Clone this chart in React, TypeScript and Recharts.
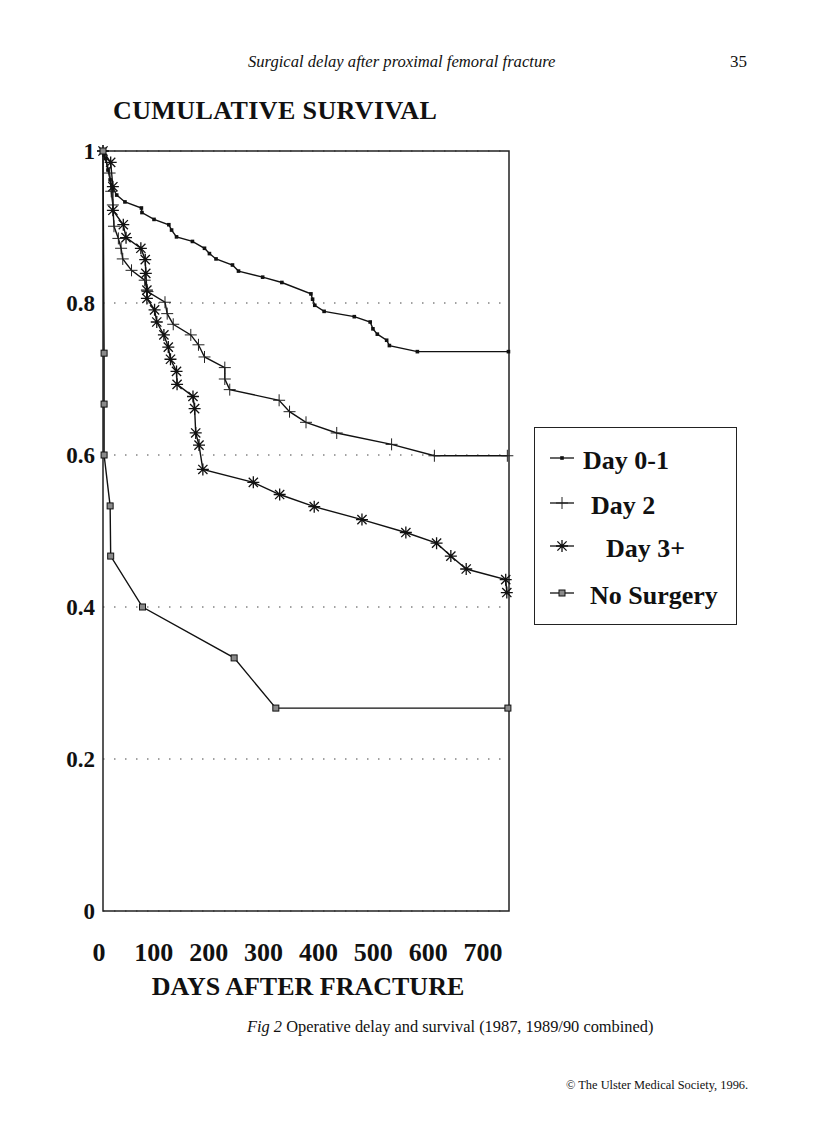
import React from 'react';
import { LineChart, Line, XAxis, YAxis, CartesianGrid, ReferenceArea } from 'recharts';

const SERIF = "'Liberation Serif', 'Times New Roman', serif";

const DAY_TICKS = [0, 100, 200, 300, 400, 500, 600, 700];
const SURV_TICKS = [0, 0.2, 0.4, 0.6, 0.8, 1];

// [days after fracture, cumulative survival]
const day01: [number, number][] = [
  [0, 1], [5, 0.99], [9, 0.975], [13, 0.962], [18, 0.951], [25, 0.942], [40, 0.933],
  [70, 0.925], [71, 0.919], [93, 0.91], [120, 0.903], [125, 0.896], [134, 0.887],
  [163, 0.881], [185, 0.872], [194, 0.865], [206, 0.858], [236, 0.85], [247, 0.842],
  [291, 0.834], [326, 0.827], [379, 0.812], [382, 0.805], [386, 0.797], [403, 0.789],
  [458, 0.782], [487, 0.775], [492, 0.766], [500, 0.759], [517, 0.751], [522, 0.744],
  [573, 0.736], [739, 0.736],
];

const day2: [number, number][] = [
  [0, 1], [12, 0.971], [15, 0.947], [18, 0.929], [20, 0.901], [28, 0.885], [33, 0.872],
  [36, 0.858], [52, 0.843], [76, 0.83], [81, 0.815], [113, 0.801], [117, 0.786],
  [128, 0.772], [160, 0.758], [174, 0.745], [185, 0.729], [222, 0.715], [222, 0.7],
  [231, 0.686], [321, 0.672], [340, 0.657], [370, 0.643], [426, 0.629], [526, 0.614],
  [604, 0.599], [737, 0.599],
];

const day3plus: [number, number][] = [
  [0, 1], [14, 0.985], [18, 0.953], [18, 0.922], [37, 0.903], [42, 0.886], [69, 0.872],
  [77, 0.857], [78, 0.839], [80, 0.817], [80, 0.806], [94, 0.791], [98, 0.775],
  [111, 0.758], [119, 0.742], [123, 0.726], [134, 0.71], [135, 0.693], [164, 0.677],
  [167, 0.661], [169, 0.629], [175, 0.613], [182, 0.581], [274, 0.564], [322, 0.548],
  [385, 0.532], [472, 0.515], [552, 0.498], [608, 0.484], [634, 0.467], [662, 0.45],
  [734, 0.436], [736, 0.419],
];

const noSurgery: [number, number][] = [
  [0, 1], [2, 0.734], [2, 0.667], [2, 0.6], [13, 0.533], [14, 0.467], [72, 0.4],
  [239, 0.333], [315, 0.267], [738, 0.267],
];

type MarkKind = 'dot' | 'plus' | 'star' | 'square';

const SERIES: { name: string; points: [number, number][]; mark: MarkKind; indent: number }[] = [
  { name: 'Day 0-1', points: day01, mark: 'dot', indent: 48 },
  { name: 'Day 2', points: day2, mark: 'plus', indent: 56 },
  { name: 'Day 3+', points: day3plus, mark: 'star', indent: 71 },
  { name: 'No Surgery', points: noSurgery, mark: 'square', indent: 55 },
];

function Mark({ kind, cx, cy }: { kind: MarkKind; cx: number; cy: number }) {
  if (kind === 'dot') {
    return <rect x={cx - 1.8} y={cy - 1.8} width={3.6} height={3.6} fill="#111" />;
  }
  if (kind === 'plus') {
    return (
      <path d={`M${cx - 6},${cy}H${cx + 6}M${cx},${cy - 6}V${cy + 6}`} stroke="#222" strokeWidth={1} fill="none" />
    );
  }
  if (kind === 'star') {
    const d = 4.6;
    return (
      <path
        d={`M${cx - 6},${cy}H${cx + 6}M${cx},${cy - 6}V${cy + 6}M${cx - d},${cy - d}L${cx + d},${cy + d}M${cx - d},${cy + d}L${cx + d},${cy - d}`}
        stroke="#111"
        strokeWidth={1.3}
        fill="none"
      />
    );
  }
  return <rect x={cx - 3} y={cy - 3} width={6} height={6} fill="#8a8a8a" stroke="#111" strokeWidth={1} />;
}

const dotFor = (kind: MarkKind) => (props: any) => {
  const { cx, cy, index } = props;
  if (cx == null || cy == null) return <g key={index} />;
  return (
    <g key={`${kind}-${index}`}>
      <Mark kind={kind} cx={cx} cy={cy} />
    </g>
  );
};

const fmtSurv = (v: number) => (v === 0 || v === 1 ? String(v) : v.toFixed(1));

function ChartLegend() {
  const centres = [33, 78, 121, 168];
  return (
    <div
      style={{
        position: 'absolute', left: 534, top: 427, width: 201, height: 196,
        border: '1.5px solid #222', background: '#fff',
      }}
    >
      {SERIES.map((s, i) => (
        <div key={s.name} style={{ position: 'absolute', left: 0, top: centres[i] - 16, height: 32, width: '100%' }}>
          <svg width={26} height={16} style={{ position: 'absolute', left: 15, top: 5 }}>
            <line x1={0} y1={8} x2={24} y2={8} stroke="#111" strokeWidth={1.3} />
            <Mark kind={s.mark} cx={12} cy={8} />
          </svg>
          <div
            style={{
              position: 'absolute', left: s.indent, top: 3, fontSize: 26, lineHeight: '26px',
              fontWeight: 700, whiteSpace: 'nowrap', color: '#111',
            }}
          >
            {s.name}
          </div>
        </div>
      ))}
    </div>
  );
}

export default function App() {
  return (
    <div
      style={{
        position: 'absolute', left: 0, top: 0, width: 816, height: 1132,
        background: '#fff', fontFamily: SERIF, color: '#111',
      }}
    >
      <div style={{ position: 'absolute', left: 248, top: 53, fontSize: 16.6, lineHeight: '18px', fontStyle: 'italic' }}>
        Surgical delay after proximal femoral fracture
      </div>
      <div style={{ position: 'absolute', left: 730, top: 53, fontSize: 17, lineHeight: '18px' }}>35</div>
      <div style={{ position: 'absolute', left: 113, top: 98, fontSize: 26, lineHeight: 1, fontWeight: 700, letterSpacing: 0.4 }}>
        CUMULATIVE SURVIVAL
      </div>

      <div style={{ position: 'absolute', left: 0, top: 0 }}>
        <LineChart width={816} height={1132} margin={{ top: 151, right: 307, bottom: 161, left: 43 }}>
          <CartesianGrid vertical={false} stroke="#444" strokeDasharray="1.5 9.5" />
          <XAxis
            type="number"
            dataKey="t"
            domain={[0, 740]}
            ticks={DAY_TICKS}
            allowDuplicatedCategory={false}
            height={60}
            axisLine={false}
            tickLine={false}
            tickSize={0}
            tickMargin={32}
            tick={{ fontSize: 26, fontWeight: 700, fill: '#111', fontFamily: SERIF, dx: -4 }}
          />
          <YAxis
            type="number"
            domain={[0, 1]}
            ticks={SURV_TICKS}
            width={60}
            axisLine={false}
            tickLine={false}
            tickSize={0}
            tickMargin={8}
            tickFormatter={fmtSurv}
            tick={{ fontSize: 23, fontWeight: 700, fill: '#111', fontFamily: SERIF }}
          />
          <ReferenceArea x1={0} x2={740} y1={0} y2={1} fill="none" fillOpacity={0} stroke="#222" strokeWidth={1.5} />
          {SERIES.map((s) => (
            <Line
              key={s.name}
              name={s.name}
              data={s.points.map(([t, v]) => ({ t, s: v }))}
              dataKey="s"
              type="linear"
              stroke="#111"
              strokeWidth={1.4}
              dot={dotFor(s.mark)}
              activeDot={false}
              isAnimationActive={false}
            />
          ))}
        </LineChart>
      </div>

      <ChartLegend />

      <div style={{ position: 'absolute', left: 0, width: 616, top: 974, textAlign: 'center', fontSize: 26, lineHeight: 1, fontWeight: 700 }}>
        DAYS AFTER FRACTURE
      </div>
      <div style={{ position: 'absolute', left: 247, top: 1019, fontSize: 16.4, lineHeight: '16px' }}>
        <i>Fig 2</i> Operative delay and survival (1987, 1989/90 combined)
      </div>
      <div style={{ position: 'absolute', left: 566, top: 1078, fontSize: 12.4, lineHeight: '15px' }}>
        © The Ulster Medical Society, 1996.
      </div>
    </div>
  );
}
